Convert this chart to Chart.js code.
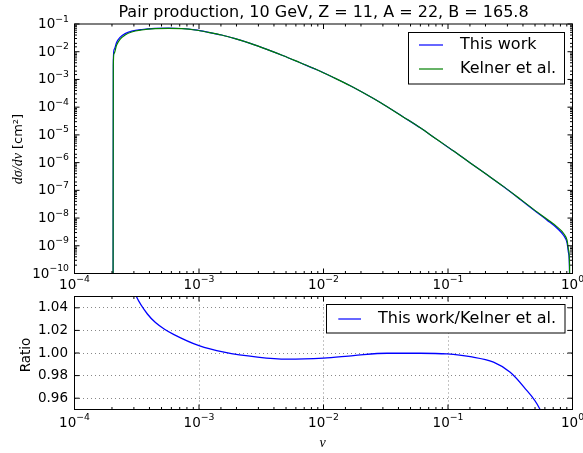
<!DOCTYPE html>
<html>
<head>
<meta charset="utf-8">
<script src="https://cdn.jsdelivr.net/npm/chart.js@4.4.1/dist/chart.umd.min.js"></script>
<style>
  html, body { margin: 0; padding: 0; background: #fff; }
  #wrap { position: relative; width: 583px; height: 453px; overflow: hidden; }
  canvas { position: absolute; left: 0; }
  #top-chart { top: 0; }
  #ratio-chart { top: 286px; }
</style>
</head>
<body>
<div id="wrap">
  <canvas id="top-chart" width="583" height="300"></canvas>
  <canvas id="ratio-chart" width="583" height="167"></canvas>
</div>
<script>
// energy fraction v and dσ/dv [cm²] for both calculations
const vThisWork = [2.04e-4, 2.05e-4, 2.08e-4, 2.18e-4, 2.32e-4, 2.55e-4, 2.88e-4, 3.47e-4, 4.44e-4,
  5.68e-4, 7.28e-4, 9.31e-4, 1.19e-3, 1.52e-3, 1.95e-3, 2.58e-3, 3.51e-3, 4.76e-3, 6.5e-3, 8.85e-3,
  1.2e-2, 1.64e-2, 2.23e-2, 2.86e-2, 4.4e-2, 6.03e-2, 8.17e-2, 0.111, 0.151, 0.206, 0.28, 0.381,
  0.519, 0.625, 0.752, 0.849, 0.904, 0.931, 0.945, 0.948];
const thisWork = [1e-12, 5.0e-3, 1.2e-2, 2.2e-2, 3.3e-2, 4.5e-2, 5.5e-2, 6.33e-2, 6.97e-2,
  7.13e-2, 6.87e-2, 6.12e-2, 5.02e-2, 4.0e-2, 2.95e-2, 1.995e-2, 1.217e-2, 7.14e-3, 3.98e-3, 2.23e-3,
  1.175e-3, 5.91e-4, 2.8e-4, 1.48e-4, 4.36e-5, 1.76e-5, 6.75e-6, 2.62e-6, 9.72e-7, 3.62e-7, 1.34e-7, 4.67e-8,
  1.59e-8, 8.4e-9, 4.3e-9, 2.35e-9, 1.27e-9, 5.2e-10, 1.3e-10, 1e-12];

const vKelner = [2.04e-4, 2.05e-4, 2.08e-4, 2.18e-4, 2.32e-4, 2.55e-4, 2.88e-4, 3.47e-4, 4.44e-4,
  5.68e-4, 7.28e-4, 9.31e-4, 1.19e-3, 1.52e-3, 1.95e-3, 2.58e-3, 3.51e-3, 4.76e-3, 6.5e-3, 8.85e-3,
  1.2e-2, 1.64e-2, 2.23e-2, 2.86e-2, 4.4e-2, 6.03e-2, 8.17e-2, 0.111, 0.151, 0.206, 0.28, 0.381,
  0.519, 0.625, 0.752, 0.849, 0.904, 0.931, 0.948, 0.951];
const kelner = [1e-12, 3.2e-3, 8.7e-3, 1.75e-2, 2.8e-2, 4.0e-2, 5.14e-2, 6.07e-2, 6.79e-2,
  7.0e-2, 6.79e-2, 6.07e-2, 5.0e-2, 4.0e-2, 2.95e-2, 2.0e-2, 1.22e-2, 7.18e-3, 4.0e-3, 2.24e-3,
  1.18e-3, 5.93e-4, 2.81e-4, 1.48e-4, 4.36e-5, 1.76e-5, 6.76e-6, 2.63e-6, 9.75e-7, 3.65e-7, 1.36e-7, 4.81e-8,
  1.67e-8, 9.12e-9, 4.81e-9, 2.78e-9, 1.59e-9, 6.93e-10, 1.73e-10, 1e-12];

// ratio this work / Kelner et al.
const vRatio = [2.9e-4, 3.14e-4, 3.85e-4, 4.47e-4, 5.25e-4, 6.3e-4, 1e-3, 1.59e-3, 2.95e-3, 5.1e-3,
  1e-2, 1.74e-2, 3.24e-2, 5.98e-2, 9.8e-2, 0.151, 0.232, 0.316, 0.406, 0.545, 0.6];
const ratio = [1.06, 1.05, 1.0345, 1.027, 1.0213, 1.0163, 1.0065, 1.0007, 0.9963, 0.9945,
  0.9955, 0.9977, 0.9998, 0.9998, 0.9992, 0.9968, 0.9919, 0.983, 0.970, 0.9506, 0.938];

// labelled ticks
const vDecades = [1e-4, 1e-3, 1e-2, 1e-1, 1];
const sigmaDecades = [1e-10, 1e-9, 1e-8, 1e-7, 1e-6, 1e-5, 1e-4, 1e-3, 1e-2, 1e-1];
const ratioTicks = [0.96, 0.98, 1.00, 1.02, 1.04];

Chart.defaults.font.family = '"DejaVu Sans"';
Chart.defaults.color = '#000';

const BASE_FONT = '13.5px "DejaVu Sans"';
const EXP_FONT = '9.3px "DejaVu Sans"';
const SERIF = 'italic 14px "Liberation Serif"';

function near(v, list) {
  return list.some(d => Math.abs(Math.log10(v) - Math.log10(d)) < 1e-6);
}

function pts(xs, ys) {
  return xs.map((x, i) => ({ x: x, y: ys[i] }));
}

// keep the plot box where the layout puts it, labels may overhang
function noOverhang(s) {
  s.paddingLeft = 0;
  s.paddingRight = 0;
  s.paddingTop = 0;
  s.paddingBottom = 0;
}

// "10" with a raised exponent; y is the baseline of the "10"
function drawPower(ctx, v, x, y, align) {
  const e = String(Math.round(Math.log10(v))).replace('-', '\u2212');
  ctx.font = BASE_FONT;
  const w1 = ctx.measureText('10').width;
  ctx.font = EXP_FONT;
  const w2 = ctx.measureText(e).width;
  const left = align === 'right' ? x - w1 - w2 : x - (w1 + w2) / 2;
  ctx.font = BASE_FONT;
  ctx.fillText('10', left, y);
  ctx.font = EXP_FONT;
  ctx.fillText(e, left + w1, y - 6.4);
}

function drawRun(ctx, parts, x, y, rotate, baseline) {
  ctx.save();
  ctx.translate(x, y);
  if (rotate) ctx.rotate(-Math.PI / 2);
  let total = 0;
  parts.forEach(p => { ctx.font = p.font; total += ctx.measureText(p.text).width; });
  let cx = -total / 2;
  ctx.textAlign = 'left';
  ctx.textBaseline = baseline;
  ctx.fillStyle = '#000';
  parts.forEach(p => {
    ctx.font = p.font;
    ctx.fillText(p.text, cx, 0);
    cx += ctx.measureText(p.text).width;
  });
  ctx.restore();
}

function drawLegend(chart, L) {
  const ctx = chart.ctx;
  ctx.save();
  ctx.fillStyle = '#fff';
  ctx.fillRect(L.x, L.y, L.w, L.h);
  ctx.strokeStyle = '#000';
  ctx.lineWidth = 1;
  ctx.strokeRect(L.x, L.y, L.w, L.h);
  ctx.font = '16px "DejaVu Sans"';
  ctx.textBaseline = 'middle';
  ctx.textAlign = 'left';
  chart.data.datasets.forEach((ds, i) => {
    const y = L.rowY + i * L.rowStep;
    ctx.strokeStyle = ds.borderColor;
    ctx.lineWidth = 1.2;
    ctx.beginPath();
    ctx.moveTo(L.x0, y);
    ctx.lineTo(L.x1, y);
    ctx.stroke();
    ctx.fillStyle = '#000';
    ctx.fillText(ds.label, L.textX, y);
  });
  ctx.restore();
}

// axes box, inward ticks on all sides, power-of-ten labels, legend and axis titles
function makeFrame(cfg) {
  return {
    id: 'frame',
    afterDatasetsDraw(chart) {
      const { ctx, chartArea: a } = chart;
      const xs = chart.scales.x, ys = chart.scales.y;
      ctx.save();
      ctx.strokeStyle = '#000';
      ctx.lineWidth = 1;
      ctx.beginPath();
      xs.ticks.forEach(t => {
        const p = xs.getPixelForValue(t.value);
        if (p < a.left - 0.5 || p > a.right + 0.5) return;
        const len = near(t.value, vDecades) ? 5 : 2.5;
        ctx.moveTo(p, a.bottom); ctx.lineTo(p, a.bottom - len);
        ctx.moveTo(p, a.top); ctx.lineTo(p, a.top + len);
      });
      ys.ticks.forEach(t => {
        const p = ys.getPixelForValue(t.value);
        if (p < a.top - 0.5 || p > a.bottom + 0.5) return;
        const len = cfg.yMajor(t.value) ? 5 : 2.5;
        ctx.moveTo(a.left, p); ctx.lineTo(a.left + len, p);
        ctx.moveTo(a.right, p); ctx.lineTo(a.right - len, p);
      });
      ctx.stroke();
      ctx.strokeRect(a.left, a.top, a.width, a.height);
      ctx.restore();
    },
    afterDraw(chart) {
      const ctx = chart.ctx;
      ctx.save();
      ctx.fillStyle = '#000';
      ctx.textAlign = 'left';
      ctx.textBaseline = 'alphabetic';
      vDecades.forEach(v => drawPower(ctx, v, chart.scales.x.getPixelForValue(v), cfg.xLabelBase, 'center'));
      if (cfg.yPowers) {
        cfg.yPowers.forEach(v => drawPower(ctx, v, 69, chart.scales.y.getPixelForValue(v) + 4, 'right'));
      }
      ctx.restore();
      drawLegend(chart, cfg.legend);
      cfg.texts.forEach(t => drawRun(ctx, t.parts, t.x, t.y, t.rotate, t.baseline));
    }
  };
}

new Chart(document.getElementById('top-chart'), {
  type: 'line',
  data: {
    datasets: [
      { label: 'This work', data: pts(vThisWork, thisWork), borderColor: '#0000ff', order: 2 },
      { label: 'Kelner et al.', data: pts(vKelner, kelner), borderColor: '#008000', order: 1 }
    ]
  },
  options: {
    responsive: false,
    animation: false,
    layout: { padding: { left: 0, right: 10.5, top: 0, bottom: 0 } },
    elements: {
      point: { radius: 0 },
      line: { borderWidth: 1.2, cubicInterpolationMode: 'monotone' }
    },
    plugins: {
      legend: { display: false },
      tooltip: { enabled: false },
      title: {
        display: true,
        fullSize: false,
        text: 'Pair production, 10 GeV, Z = 11, A = 22, B = 165.8',
        color: '#000',
        font: { size: 16, weight: 'normal', lineHeight: 1.2 },
        padding: { top: 3, bottom: 1.8 }
      }
    },
    scales: {
      x: {
        type: 'logarithmic', min: 1e-4, max: 1,
        grid: { display: false }, border: { display: false },
        ticks: { display: false, autoSkip: false },
        afterFit: s => { noOverhang(s); s.height = 26.5; }
      },
      y: {
        type: 'logarithmic', min: 1e-10, max: 1e-1,
        grid: { display: false }, border: { display: false },
        ticks: { display: false, autoSkip: false },
        afterFit: s => { noOverhang(s); s.width = 74.5; }
      }
    }
  },
  plugins: [makeFrame({
    xLabelBase: 288.6,
    yPowers: sigmaDecades,
    yMajor: v => near(v, sigmaDecades),
    legend: { x: 408.5, y: 32.5, w: 156, h: 51.5, rowY: 45, rowStep: 24, x0: 419, x1: 443, textX: 460 },
    texts: [{
      parts: [{ text: 'd\u03C3/dv', font: SERIF }, { text: ' [cm\u00B2]', font: '13px "DejaVu Sans"' }],
      x: 22, y: 149, rotate: true, baseline: 'alphabetic'
    }]
  })]
});

new Chart(document.getElementById('ratio-chart'), {
  type: 'line',
  data: {
    datasets: [
      { label: 'This work/Kelner et al.', data: pts(vRatio, ratio), borderColor: '#0000ff' }
    ]
  },
  options: {
    responsive: false,
    animation: false,
    layout: { padding: { left: 0, right: 10.5, top: 10.5, bottom: 0 } },
    elements: {
      point: { radius: 0 },
      line: { borderWidth: 1.3, cubicInterpolationMode: 'monotone' }
    },
    plugins: { legend: { display: false }, tooltip: { enabled: false } },
    scales: {
      x: {
        type: 'logarithmic', min: 1e-4, max: 1,
        grid: {
          drawTicks: false, lineWidth: 1,
          color: c => (c.tick && near(c.tick.value, vDecades)) ? '#888' : 'rgba(0,0,0,0)'
        },
        border: { display: false, dash: [1, 3] },
        ticks: { display: false, autoSkip: false },
        afterFit: s => { noOverhang(s); s.height = 43.5; }
      },
      y: {
        type: 'linear', min: 0.95, max: 1.05,
        grid: { drawTicks: false, lineWidth: 1, color: '#888' },
        border: { display: false, dash: [1, 3] },
        afterBuildTicks: s => { s.ticks = ratioTicks.map(v => ({ value: v })); },
        ticks: {
          padding: 6.5, font: { size: 13.5 },
          callback: v => v.toFixed(2)
        },
        afterFit: s => { noOverhang(s); s.width = 74.5; }
      }
    }
  },
  plugins: [makeFrame({
    xLabelBase: 140.5,
    yPowers: null,
    yMajor: () => true,
    legend: { x: 326.5, y: 18.5, w: 238.5, h: 28.5, rowY: 33, rowStep: 24, x0: 338.3, x1: 361, textX: 378 },
    texts: [
      { parts: [{ text: 'Ratio', font: '13.5px "DejaVu Sans"' }], x: 26.7, y: 69, rotate: true, baseline: 'middle' },
      { parts: [{ text: 'v', font: SERIF }], x: 322.7, y: 157, rotate: false, baseline: 'middle' }
    ]
  })]
});
</script>
</body>
</html>
